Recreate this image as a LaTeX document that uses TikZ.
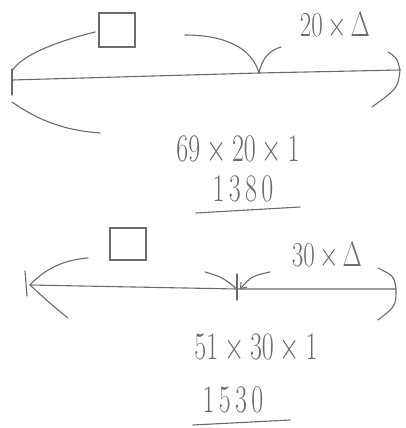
\RequirePackage{fix-cm}
\documentclass[tikz,border=0pt]{standalone}
\usepackage{tikz}
\usetikzlibrary{arrows.meta,positioning}
\usepackage{xcolor}
\definecolor{graphite}{rgb}{0.42, 0.42, 0.42}
\definecolor{paper}{rgb}{1, 1, 1}

\begin{document}
\begin{tikzpicture}[x=1pt,y=-1pt]
	% Fix the page to the size of the sheet.
	\fill [paper] (0,0) rectangle (406,428);
	\useasboundingbox (0,0) rectangle (406,428);

	\tikzstyle{pencil line}=[draw=graphite,line width=1.1pt,line cap=round,line join=round]
	\tikzstyle{pencil box}=[draw=graphite,line width=1.1pt,minimum width=36pt,minimum height=34pt,inner sep=0pt]
	\tikzstyle{sum text}=[text=graphite,inner sep=0pt,font=\fontsize{26}{30}\selectfont,yscale=1.5,transform shape]
	\tikzstyle{tag text}=[text=graphite,inner sep=0pt,font=\fontsize{25}{28}\selectfont,yscale=1.4,transform shape]

	% --- Top number line ---
	\coordinate (topL) at (12,80);
	\coordinate (topM) at (259,73);
	\coordinate (topR) at (400,70);
	\draw [pencil line] (topL) -- (topM) -- (topR);
	% Tick at the left end.
	\draw [pencil line] ([yshift=11pt]topL) -- ([yshift=-15pt]topL);

	% The box above the left part, and its arc down to the left end.
	\node [pencil box] (topBox) at (117,30) {};
	\coordinate (topBoxArc) at (95,32);
	\draw [pencil line] (topBoxArc) .. controls (55,42) and (22,55) .. ([yshift=9pt]topL);

	% Arc from below back to the left end.
	\coordinate (topLow) at (100,133);
	\draw [pencil line] (topLow) .. controls (60,130) and (35,118) .. ([yshift=-22pt]topL);

	% Mark at the middle point.
	\coordinate (topMidA) at (185,35);
	\coordinate (topMidB) at (281,47);
	\draw [pencil line] (topMidA) .. controls (225,35) and (252,48) .. (topM);
	\draw [pencil line] (topM) .. controls (262,58) and (270,50) .. (topMidB);
	\node [tag text] (topTag) at (335,26) {$20\,{\times}\,\Delta$};

	% Bracket at the right end.
	\coordinate (topRA) at (388,52);
	\coordinate (topRB) at (372,107);
	\draw [pencil line] (topRA) .. controls (397,58) .. (topR) .. controls (398,88) .. (topRB);

	% Working.
	\node [sum text] (topSum) at (238,151) {$69\times20\times1$};
	\node [sum text] (topRes) at (243,189) {$1\,3\,8\,0$};
	\coordinate (topUndA) at (196,213);
	\coordinate (topUndB) at (300,207);
	\draw [pencil line] (topUndA) -- (topUndB);

	% --- Bottom number line ---
	\coordinate (botL) at (30,285);
	\coordinate (botM) at (237,289);
	\coordinate (botR) at (396,289);
	\draw [pencil line] (botL) -- (botM) -- (botR);
	% Tick at the left end.
	\draw [pencil line] ([xshift=-5pt,yshift=14pt]botL) -- ([xshift=-3pt,yshift=-11pt]botL);

	% The box above the left part, and the arrow tip at the left end.
	\node [pencil box,minimum height=32pt] (botBox) at (128,244) {};
	\coordinate (botArmA) at (88,258);
	\coordinate (botArmB) at (68,318);
	\draw [pencil line] (botArmA) .. controls (60,260) and (42,272) .. (botL);
	\draw [pencil line] (botL) .. controls (42,296) and (55,308) .. (botArmB);

	% Mark at the middle point.
	\draw [pencil line] ([yshift=15pt]botM) -- ([yshift=-11pt]botM);
	\coordinate (botMidA) at (205,272);
	\coordinate (botMidB) at (270,272);
	\draw [pencil line] (botMidA) .. controls (222,277) .. (botM);
	\draw [pencil line,-{Straight Barb[length=5pt,width=8pt]}] (botMidB) .. controls (252,276) .. ([xshift=3pt]botM);
	\node [tag text] (botTag) at (327,256) {$30\,{\times}\,\Delta$};

	% Bracket at the right end.
	\coordinate (botRA) at (378,268);
	\coordinate (botRB) at (378,320);
	\draw [pencil line] (botRA) .. controls (394,276) .. (botR) .. controls (396,306) .. (botRB);

	% Working.
	\node [sum text] (botSum) at (256,349) {$51\times30\times1$};
	\node [sum text] (botRes) at (233,400) {$1\,5\,3\,0$};
	\coordinate (botUndA) at (193,425);
	\coordinate (botUndB) at (290,420);
	\draw [pencil line] (botUndA) -- (botUndB);
\end{tikzpicture}
\end{document}
